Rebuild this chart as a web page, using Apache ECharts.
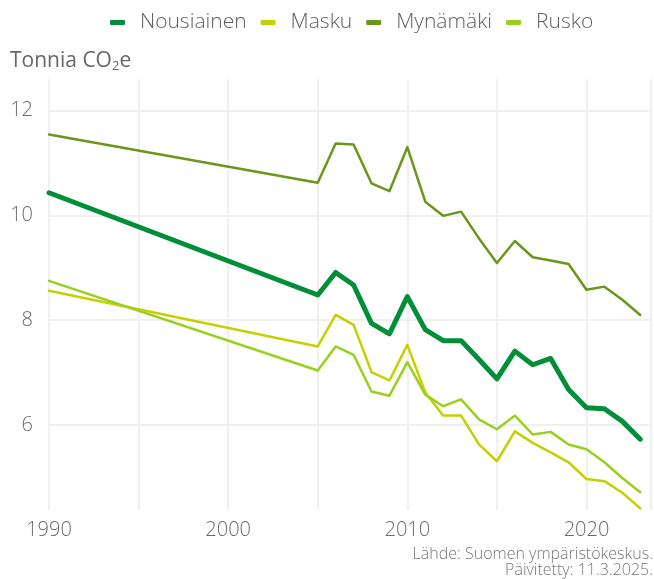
<!DOCTYPE html>
<html>
<head>
<meta charset="utf-8">
<script src="https://cdn.jsdelivr.net/npm/echarts@6/dist/echarts.min.js"></script>
<style>
  html, body { margin: 0; padding: 0; background: #fff; }
  #chart { width: 654px; height: 579px; }
</style>
</head>
<body>
<div id="chart"></div>
<script>
// Emissions per inhabitant (tonnes CO2e), 1990 and 2005–2023
const years = [1990, 2005, 2006, 2007, 2008, 2009, 2010, 2011, 2012, 2013, 2014,
               2015, 2016, 2017, 2018, 2019, 2020, 2021, 2022, 2023];
const nousiainen = [10.43, 8.48, 8.91, 8.67, 7.94, 7.74, 8.45, 7.82, 7.61, 7.61, 7.25,
                    6.88, 7.41, 7.15, 7.27, 6.68, 6.33, 6.31, 6.07, 5.73];
const masku = [8.56, 7.50, 8.10, 7.91, 7.01, 6.85, 7.53, 6.62, 6.18, 6.18, 5.63,
               5.31, 5.88, 5.66, 5.48, 5.29, 4.97, 4.93, 4.71, 4.41];
const mynamaki = [11.54, 10.62, 11.37, 11.35, 10.61, 10.46, 11.30, 10.26, 9.99, 10.07, 9.56,
                  9.09, 9.51, 9.20, 9.14, 9.07, 8.58, 8.64, 8.39, 8.10];
const rusko = [8.75, 7.04, 7.50, 7.34, 6.64, 6.56, 7.20, 6.58, 6.36, 6.49, 6.11,
               5.92, 6.18, 5.82, 5.87, 5.63, 5.54, 5.29, 4.99, 4.72];
const yTicks = [6, 8, 10, 12];
const xLabelYears = [1990, 2000, 2010, 2020];

const pairs = vals => years.map((y, i) => [y, vals[i]]);
const textColor = '#6b6b6b';
const uiFont = '"Open Sans", Lato, sans-serif';

const chart = echarts.init(document.getElementById('chart'), null, { renderer: 'canvas' });

function line(name, vals, color, width, z) {
  return {
    name, type: 'line', data: pairs(vals), symbol: 'none', z,
    lineStyle: { color, width, join: 'round', cap: 'round' },
    itemStyle: { color },
    emphasis: { disabled: true }
  };
}

const sourceStyle = { align: 'right', fontSize: 16, fontFamily: uiFont, fontWeight: 300, fill: '#777' };

chart.setOption({
  animation: false,
  backgroundColor: '#fff',
  grid: { left: 49, right: 0, top: 79, bottom: 69, containLabel: false },
  legend: {
    top: 7, left: 105,
    itemWidth: 15, itemHeight: 5, itemGap: 14,
    icon: 'roundRect',
    textStyle: { color: '#5f5f5f', fontSize: 21, fontFamily: uiFont, fontWeight: 300, padding: [0, 0, 0, 10] },
    data: ['Nousiainen', 'Masku', 'Mynämäki', 'Rusko']
  },
  graphic: [
    {
      type: 'text', left: 10, top: 51,
      style: {
        text: '{m|Tonnia CO}{s|2}{m|e}',
        rich: {
          m: { fontSize: 21, fontFamily: '"Open Sans", sans-serif', fill: '#666' },
          s: { fontSize: 13, fontFamily: '"Open Sans", sans-serif', fill: '#666', padding: [10, 0, 0, 0] }
        }
      }
    },
    { type: 'text', x: 653, y: 546, style: Object.assign({ text: 'Lähde: Suomen ympäristökeskus.' }, sourceStyle) },
    { type: 'text', x: 653, y: 562, style: Object.assign({ text: 'Päivitetty: 11.3.2025.' }, sourceStyle) }
  ],
  xAxis: {
    type: 'value', min: 1990, max: 2023.6, interval: 5,
    axisLine: { show: false }, axisTick: { show: false },
    splitLine: { show: true, lineStyle: { color: '#f0f0f0', width: 2 } },
    axisLabel: {
      color: textColor, fontSize: 20, fontFamily: uiFont, fontWeight: 300, margin: 10,
      formatter: v => (xLabelYears.includes(v) ? String(v) : '')
    }
  },
  yAxis: {
    type: 'value', min: 4.38, max: 12.6,
    axisLine: { show: false },
    axisTick: { show: false, customValues: yTicks },
    splitLine: { show: true, lineStyle: { color: '#f0f0f0', width: 2 } },
    axisLabel: {
      customValues: yTicks,
      color: textColor, fontSize: 20, fontFamily: uiFont, fontWeight: 300, margin: 16
    }
  },
  series: [
    line('Nousiainen', nousiainen, '#008f38', 5, 5),
    line('Masku', masku, '#c5d000', 2.5, 3),
    line('Mynämäki', mynamaki, '#6a961a', 2.5, 3),
    line('Rusko', rusko, '#99d01e', 2.5, 3)
  ]
});
</script>
</body>
</html>
